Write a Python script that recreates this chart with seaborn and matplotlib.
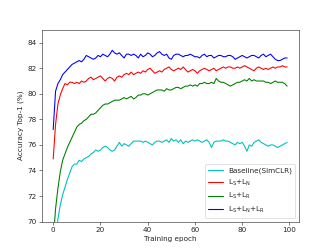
import numpy as np
import pandas as pd
import matplotlib
matplotlib.use('Agg')
import matplotlib.pyplot as plt
import seaborn as sns

# -------- data --------
epochs = list(range(100))

baseline = [66.0, 68.5, 70.2, 71.3, 72.1, 72.7, 73.3, 73.8, 74.3, 74.5,
            74.5, 74.8, 74.7, 74.9, 75.0, 75.1, 75.3, 75.4, 75.6, 75.5,
            75.6, 75.8, 75.9, 75.8, 75.6, 75.5, 75.6, 75.9, 76.2, 75.9,
            76.1, 76.0, 75.9, 76.1, 76.3, 76.3, 76.3, 76.3, 76.2, 76.3,
            76.2, 76.1, 76.0, 76.2, 76.3, 76.3, 76.2, 76.3, 76.4, 76.2,
            76.5, 76.3, 76.4, 76.2, 76.4, 76.1, 76.3, 76.2, 76.3, 76.4,
            76.3, 76.4, 76.3, 76.2, 76.3, 76.4, 76.2, 75.8, 76.2, 76.3,
            76.3, 76.3, 76.4, 76.3, 76.3, 76.2, 76.1, 76.0, 76.2, 76.1,
            76.2, 75.9, 75.5, 76.0, 75.9, 76.2, 76.3, 76.4, 76.2, 76.1,
            76.0, 75.9, 76.0, 76.0, 75.9, 75.8, 75.9, 76.0, 76.1, 76.2]

ls_ln = [74.9, 77.6, 79.2, 79.9, 80.4, 80.8, 80.7, 80.9, 80.9, 80.8,
         80.9, 80.8, 81.0, 80.9, 81.0, 81.2, 81.3, 81.1, 81.2, 81.3,
         81.4, 81.2, 81.0, 81.2, 81.3, 81.2, 81.0, 81.3, 81.4, 81.3,
         81.5, 81.6, 81.5, 81.7, 81.5, 81.6, 81.7, 81.6, 81.8, 81.7,
         81.9, 82.0, 81.8, 81.6, 81.7, 81.8, 81.7, 81.9, 82.0, 82.1,
         81.9, 81.8, 81.9, 82.0, 81.9, 82.1, 81.9, 81.7, 81.8, 81.9,
         81.8, 81.6, 81.8, 81.9, 82.0, 81.9, 81.8, 81.9, 82.0, 81.8,
         81.9, 82.0, 82.1, 82.0, 82.1, 82.1, 82.0, 82.0, 82.1, 82.0,
         82.1, 82.2, 82.1, 82.0, 81.9, 81.8, 82.0, 82.1, 82.0, 81.9,
         82.0, 81.9, 82.0, 82.1, 82.0, 82.1, 82.1, 82.2, 82.1, 82.1]

ls_lr = [68.5, 71.0, 72.6, 73.9, 74.8, 75.3, 75.8, 76.2, 76.6, 77.0,
         77.4, 77.6, 77.7, 77.9, 78.0, 78.2, 78.4, 78.4, 78.5, 78.7,
         78.9, 79.1, 79.2, 79.2, 79.3, 79.4, 79.5, 79.5, 79.5, 79.6,
         79.7, 79.6, 79.7, 79.8, 79.6, 79.7, 79.9, 79.9, 80.0, 80.0,
         79.9, 80.0, 80.1, 80.2, 80.3, 80.3, 80.3, 80.2, 80.4, 80.3,
         80.3, 80.4, 80.5, 80.5, 80.4, 80.5, 80.6, 80.6, 80.7, 80.6,
         80.7, 80.6, 80.8, 80.8, 80.9, 80.8, 80.8, 80.9, 80.8, 81.2,
         81.0, 80.9, 80.9, 80.8, 80.7, 80.6, 80.7, 80.8, 80.9, 80.9,
         81.0, 81.1, 81.0, 81.2, 81.0, 81.1, 81.0, 81.0, 81.0, 81.0,
         80.9, 80.9, 80.8, 80.9, 81.0, 80.9, 80.9, 80.9, 80.8, 80.6]

ls_ln_lr = [77.2, 80.2, 80.8, 81.1, 81.5, 81.7, 81.9, 82.1, 82.3, 82.4,
            82.5, 82.6, 82.5, 82.7, 83.0, 82.9, 82.8, 82.7, 82.8, 83.0,
            82.9, 83.1, 83.0, 82.9, 83.1, 83.4, 83.2, 83.1, 83.2, 83.0,
            82.8, 83.1, 83.1, 83.0, 83.1, 83.0, 82.8, 83.1, 82.9, 83.0,
            83.2, 83.1, 82.9, 83.0, 83.2, 83.3, 83.1, 83.0, 83.1, 82.8,
            82.7, 83.0, 83.1, 83.1, 83.0, 82.9, 83.0, 83.0, 83.1, 83.0,
            82.9, 82.9, 82.8, 83.0, 83.1, 82.9, 83.0, 83.0, 82.8, 82.9,
            83.0, 83.0, 82.9, 82.9, 83.0, 83.0, 82.9, 82.7, 82.8, 82.9,
            83.0, 82.9, 82.8, 82.9, 83.0, 83.0, 82.9, 82.8, 83.0, 83.1,
            82.9, 83.0, 83.1, 82.9, 82.7, 82.6, 82.6, 82.7, 82.8, 82.8]

labels = ['Baseline(SimCLR)',
          r'$\mathregular{L_S{+}L_N}$',
          r'$\mathregular{L_S{+}L_R}$',
          r'$\mathregular{L_S{+}L_N{+}L_R}$']
colors = ['c', 'r', 'g', 'b']
series = [baseline, ls_ln, ls_lr, ls_ln_lr]

# -------- plot --------
sns.set_style('ticks')
plt.rcParams['font.family'] = ['DejaVu Sans']

fig, ax = plt.subplots(figsize=(6.4, 4.8), dpi=51.875)
for vals, lab, col in zip(series, labels, colors):
    df = pd.DataFrame({'epoch': epochs, 'acc': vals})
    sns.lineplot(data=df, x='epoch', y='acc', color=col, label=lab,
                 linewidth=1.5, ax=ax)

ax.set_ylim(70, 85)
ax.set_xticks([0, 20, 40, 60, 80, 100])
ax.set_yticks(np.arange(70, 85, 2))
ax.set_xlabel('Training epoch')
ax.set_ylabel('Accuracy Top-1 (%)')
ax.legend(loc='lower right')

plt.savefig('out.png', dpi=51.875)
